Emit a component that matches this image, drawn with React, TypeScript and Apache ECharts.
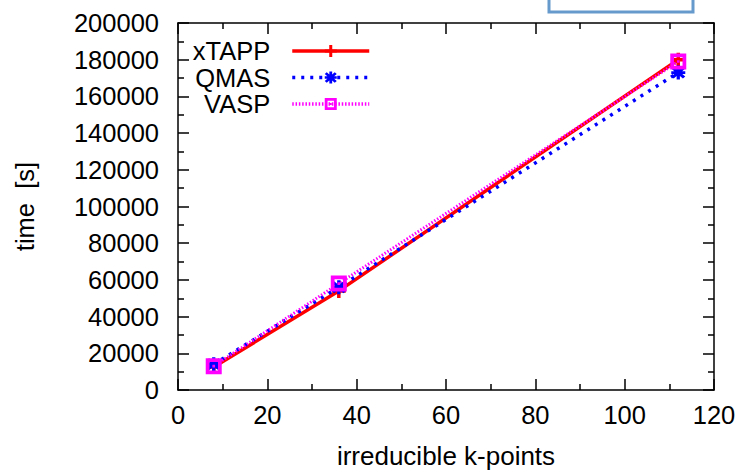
import React, { useEffect, useRef } from "react";
import * as echarts from "echarts";

const kPoints = [8, 36, 112];
const xtappTime = [12500, 54000, 180000];
const qmasTime = [14000, 56000, 173000];
const vaspTime = [13000, 58000, 179000];
const seriesNames = ["xTAPP", "QMAS", "VASP"];

const FONT = "Liberation Sans";
const FS = 25.5;

const plusPath = "path://M0,4.5H4.5V0H7.5V4.5H12V7.5H7.5V12H4.5V7.5H0Z";
const starPath =
  "path://M4.6,0H7.4V3.6L10,1L12,3L9.4,5.6H12V8.4H9.4L12,11L10,13L7.4,10.4V14H4.6V10.4L2,13L0,11L2.6,8.4H0V5.6H2.6L0,3L2,1L4.6,3.6Z";
const squarePath = "path://M0,0H12V12H0Z M2.8,2.8V9.2H9.2V2.8Z M5,5H7V7H5Z";

export default function App() {
  const ref = useRef<HTMLDivElement>(null);
  useEffect(() => {
    if (!ref.current) return;
    const chart = echarts.init(ref.current, null, { renderer: "svg" });
    const mk = (xs: number[], ys: number[]) => xs.map((x, i) => [x, ys[i]]);
    const legendBase = {
      orient: "vertical" as const,
      align: "right" as const,
      right: 367,
      itemWidth: 77,
      itemHeight: 15,
      textStyle: { fontFamily: FONT, fontSize: FS, color: "#000", padding: [0, 17, 0, 0] },
      lineStyle: { width: 3.5 },
      selectedMode: false,
    };
    const tickStyle = { color: "#000", width: 1.5 };
    chart.setOption({
      animation: false,
      backgroundColor: "#fff",
      textStyle: { fontFamily: FONT },
      grid: {
        left: 178,
        right: 29,
        top: 23,
        bottom: 80,
        containLabel: false,
        outerBoundsMode: "none",
      },
      legend: [
        { ...legendBase, data: [seriesNames[0]], top: 33 },
        { ...legendBase, data: [seriesNames[1]], top: 59.5 },
        { ...legendBase, data: [seriesNames[2]], top: 86 },
      ],
      xAxis: [
        {
          type: "value",
          min: 0,
          max: 120,
          interval: 20,
          position: "bottom",
          name: "irreducible k-points",
          nameLocation: "middle",
          nameGap: 53,
          nameTextStyle: { fontFamily: FONT, fontSize: 26, color: "#000" },
          axisLine: { show: true, onZero: false, lineStyle: tickStyle },
          axisTick: { show: true, inside: true, length: 11, lineStyle: tickStyle },
          minorTick: { show: true, splitNumber: 2, length: 6, lineStyle: tickStyle },
          axisLabel: { fontFamily: FONT, fontSize: FS, color: "#000", margin: 12 },
          splitLine: { show: false },
        },
        {
          type: "value",
          min: 0,
          max: 120,
          interval: 20,
          position: "top",
          axisLine: { show: true, onZero: false, lineStyle: tickStyle },
          axisTick: { show: true, inside: true, length: 11, lineStyle: tickStyle },
          minorTick: { show: true, splitNumber: 2, length: 6, lineStyle: tickStyle },
          axisLabel: { show: false },
          splitLine: { show: false },
        },
      ],
      yAxis: [
        {
          type: "value",
          min: 0,
          max: 200000,
          interval: 20000,
          position: "left",
          name: "time  [s]",
          nameLocation: "middle",
          nameGap: 140,
          nameTextStyle: { fontFamily: FONT, fontSize: FS, color: "#000" },
          axisLine: { show: true, onZero: false, lineStyle: tickStyle },
          axisTick: { show: true, inside: true, length: 11, lineStyle: tickStyle },
          minorTick: { show: true, splitNumber: 2, length: 6, lineStyle: tickStyle },
          axisLabel: {
            fontFamily: FONT,
            fontSize: FS,
            color: "#000",
            margin: 19,
            formatter: (v: number) => String(v),
          },
          splitLine: { show: false },
        },
        {
          type: "value",
          min: 0,
          max: 200000,
          interval: 20000,
          position: "right",
          axisLine: { show: true, onZero: false, lineStyle: tickStyle },
          axisTick: { show: true, inside: true, length: 11, lineStyle: tickStyle },
          minorTick: { show: true, splitNumber: 2, length: 6, lineStyle: tickStyle },
          axisLabel: { show: false },
          splitLine: { show: false },
        },
      ],
      graphic: [
        {
          type: "rect",
          shape: { x: 549, y: -20, width: 144, height: 32 },
          style: { fill: "none", stroke: "#6699cc", lineWidth: 3 },
        },
      ],
      series: [
        {
          name: seriesNames[0],
          type: "line",
          data: mk(kPoints, xtappTime),
          symbol: plusPath,
          symbolSize: 14,
          lineStyle: { color: "#ff0000", width: 3.5, type: "solid" },
          itemStyle: { color: "#ff0000" },
        },
        {
          name: seriesNames[1],
          type: "line",
          data: mk(kPoints, qmasTime),
          symbol: starPath,
          symbolSize: 14,
          lineStyle: { color: "#0000ff", width: 3.5, type: [3, 6] },
          itemStyle: { color: "#0000ff" },
        },
        {
          name: seriesNames[2],
          type: "line",
          data: mk(kPoints, vaspTime),
          symbol: squarePath,
          symbolSize: 16,
          lineStyle: { color: "#ff00ff", width: 3, type: [1.5, 1.8] },
          itemStyle: { color: "#ff00ff" },
        },
      ],
    });
    return () => chart.dispose();
  }, []);
  return <div ref={ref} style={{ width: 743, height: 470, position: "absolute", left: 0, top: 0 }} />;
}
